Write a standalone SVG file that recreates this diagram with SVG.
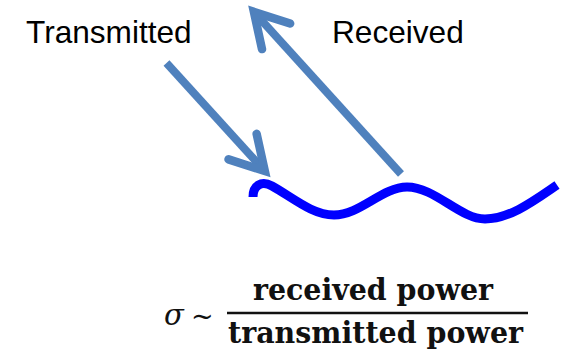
<svg xmlns="http://www.w3.org/2000/svg" width="565" height="356" viewBox="0 0 565 356">
<style>
.lbl{font-family:"Liberation Sans",Arial,sans-serif;font-size:31.6px;fill:#000}
.frac{font-family:"DejaVu Serif","Liberation Serif",serif;font-weight:bold;font-size:29.5px;fill:#111}
.math{font-family:"DejaVu Serif","Liberation Serif",serif;fill:#111}
.ray{stroke:#4F81BD;stroke-width:8;fill:none;stroke-linecap:butt}
</style>
<defs>
<marker id="head" markerUnits="userSpaceOnUse" viewBox="-50 -30 60 60" refX="0" refY="0" markerWidth="60" markerHeight="60" orient="auto" overflow="visible">
<path d="M -33 -19 L 0 0 L -33 19" fill="none" stroke="#4F81BD" stroke-width="8.5" stroke-linecap="round" stroke-linejoin="miter" stroke-miterlimit="10"/>
</marker>
</defs>
<rect width="565" height="356" fill="#fff"/>
<g id="surface">
<path d="M 253 197 C 253 186, 261 180, 272 186 C 292 197, 312 215, 334 215 C 360 215, 382 187, 407 187 C 435 187, 460 219, 485 219 C 510 219, 535 200, 557 185" fill="none" stroke="#0000FF" stroke-width="9"/>
</g>
<g id="connectors">
<line id="transmitted-ray" class="ray" x1="166.5" y1="63" x2="264.8" y2="171" marker-end="url(#head)"/>
<line id="received-ray" class="ray" x1="401" y1="174" x2="253.9" y2="11.9" marker-end="url(#head)"/>
</g>
<g id="label-transmitted"><text class="lbl" x="26" y="43">Transmitted</text></g>
<g id="label-received"><text class="lbl" x="332" y="43">Received</text></g>
<g id="formula">
<text class="math" x="164" y="325" font-style="italic" font-size="29">σ</text>
<text class="math" x="191" y="326" font-size="27">~</text>
<text class="frac" x="253" y="300" textLength="240" lengthAdjust="spacingAndGlyphs">received power</text>
<line x1="227" y1="313" x2="528" y2="313" stroke="#111" stroke-width="2.4"/>
<text class="frac" x="228" y="343" textLength="295" lengthAdjust="spacingAndGlyphs">transmitted power</text>
</g>
</svg>
